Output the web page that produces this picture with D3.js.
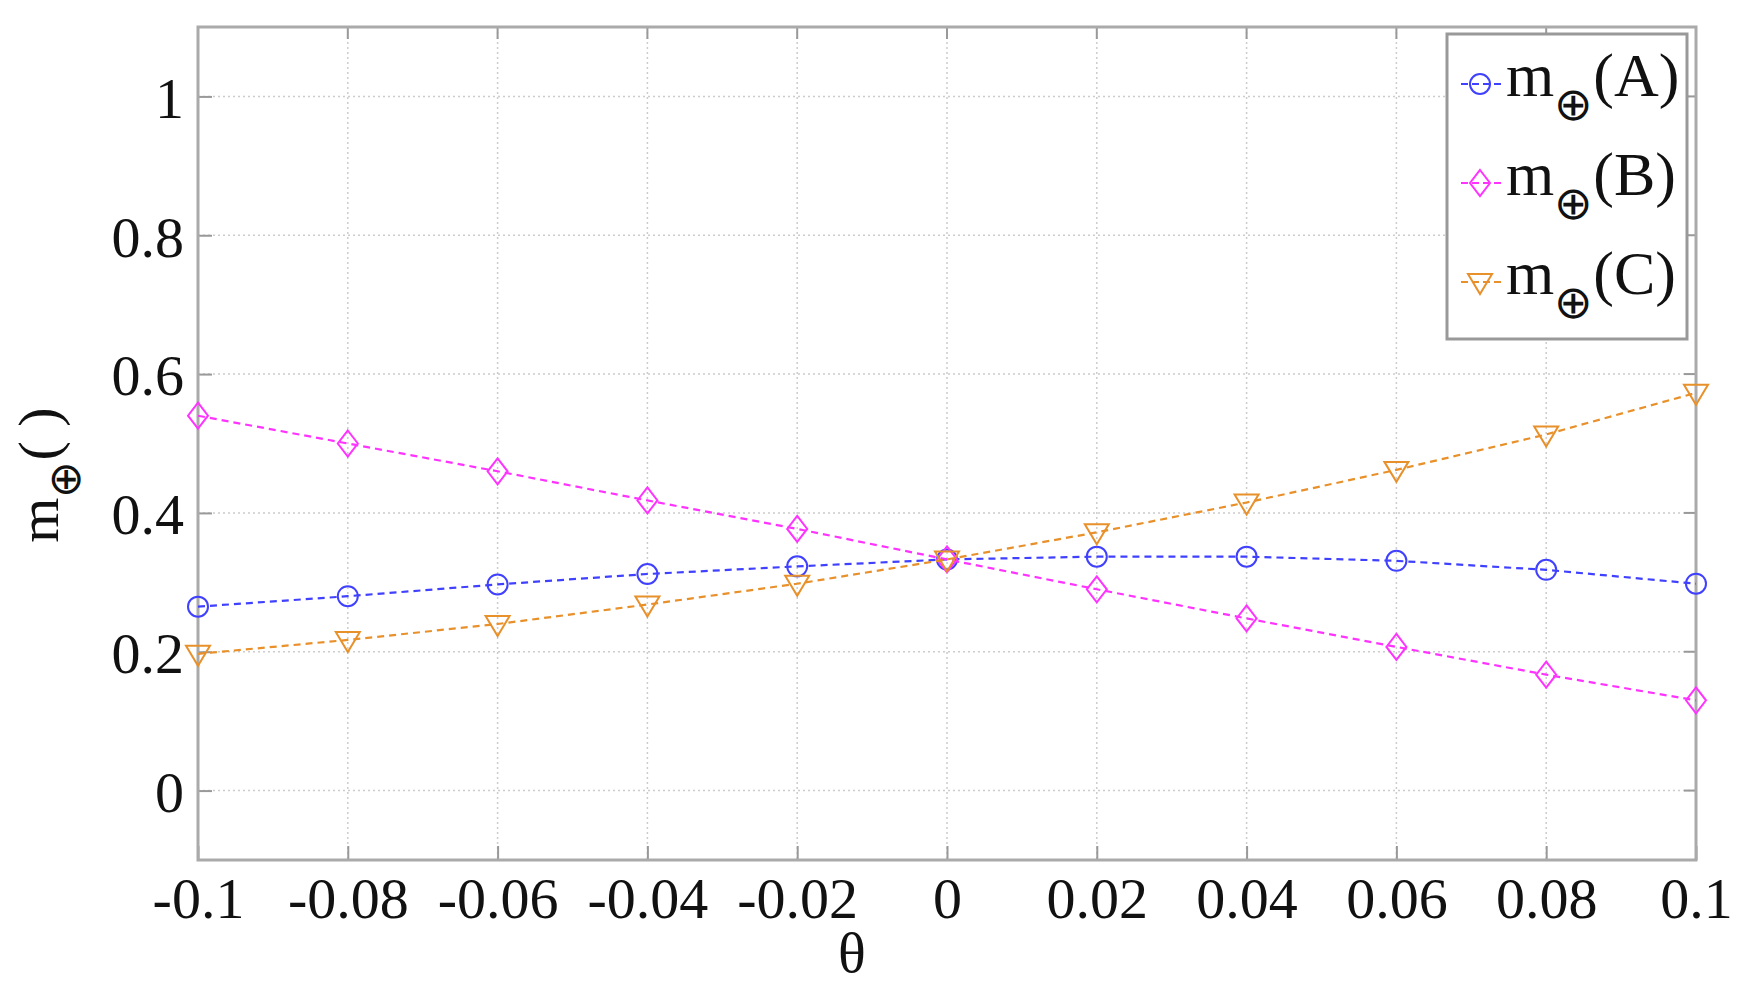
<!DOCTYPE html><html><head><meta charset="utf-8"><script src="https://cdn.jsdelivr.net/npm/d3@7"></script>
<style>body{margin:0;background:#fff}text{font-family:"Liberation Serif","Times New Roman",serif;fill:#111}</style></head><body>
<svg id="c" width="1745" height="998"></svg>
<script>
const thetas=[-0.1,-0.08,-0.06,-0.04,-0.02,0,0.02,0.04,0.06,0.08,0.1];
const xTicks=[-0.1,-0.08,-0.06,-0.04,-0.02,0,0.02,0.04,0.06,0.08,0.1];
const yTicks=[0,0.2,0.4,0.6,0.8,1];
const seriesA=[0.265,0.28,0.297,0.312,0.323,0.333,0.337,0.337,0.331,0.318,0.298];
const seriesB=[0.54,0.50,0.46,0.418,0.377,0.333,0.29,0.248,0.207,0.167,0.13];
const seriesC=[0.197,0.217,0.24,0.268,0.298,0.333,0.372,0.415,0.462,0.513,0.573];
const labels=["A","B","C"];
const colors=["#4040ff","#ff33ff","#e8902a"];
const svg=d3.select("#c");
const L=198,R=1696,T=27,B=860;
const x=d3.scaleLinear().domain([-0.1,0.1]).range([L,R]);
const y=d3.scaleLinear().domain([-0.1,1.1]).range([B,T]);
const g=svg.append("g");
g.selectAll(".gx").data(xTicks).enter().append("line").attr("x1",d=>x(d)).attr("x2",d=>x(d)).attr("y1",T).attr("y2",B).attr("stroke","#ccc").attr("stroke-width",1.5).attr("stroke-dasharray","2,3");
g.selectAll(".gy").data(yTicks).enter().append("line").attr("y1",d=>y(d)).attr("y2",d=>y(d)).attr("x1",L).attr("x2",R).attr("stroke","#ccc").attr("stroke-width",1.5).attr("stroke-dasharray","2,3");
const fmt=d=>String(+d.toFixed(2));
const xa=d3.axisBottom(x).tickValues(xTicks).tickSize(-14).tickFormat(fmt);
const ya=d3.axisLeft(y).tickValues(yTicks).tickSize(-14).tickFormat(fmt);
const gx=svg.append("g").attr("transform",`translate(0,${B})`).call(xa);
const gy=svg.append("g").attr("transform",`translate(${L},0)`).call(ya);
[gx,gy].forEach(a=>{a.select(".domain").remove();a.selectAll("line").attr("stroke","#999").attr("stroke-width",2);a.selectAll("text").style("font-size","58px").attr("fill","#111");});
gx.selectAll("text").attr("dy","0").attr("y",58);
gy.selectAll("text").attr("x",-14).attr("dy","0.36em");
svg.selectAll(".rt").data(yTicks).enter().append("line").attr("x1",R).attr("x2",R-12).attr("y1",d=>y(d)).attr("y2",d=>y(d)).attr("stroke","#999").attr("stroke-width",2);
svg.selectAll(".tt").data(xTicks).enter().append("line").attr("y1",T).attr("y2",T+12).attr("x1",d=>x(d)).attr("x2",d=>x(d)).attr("stroke","#999").attr("stroke-width",2);
svg.append("rect").attr("x",L).attr("y",T).attr("width",R-L).attr("height",B-T).attr("fill","none").attr("stroke","#aaa").attr("stroke-width",3);
function marker(sel,i,cx,cy){
  if(i===0) sel.append("circle").attr("cx",cx).attr("cy",cy).attr("r",10);
  else if(i===1) sel.append("path").attr("d",`M${cx},${cy-13}L${cx+10},${cy}L${cx},${cy+13}L${cx-10},${cy}Z`);
  else sel.append("path").attr("d",`M${cx-12},${cy-8}L${cx+12},${cy-8}L${cx},${cy+12}Z`);
}
const all=[seriesA,seriesB,seriesC];
all.forEach((s,i)=>{
  const line=d3.line().x((d,j)=>x(thetas[j])).y(d=>y(d));
  svg.append("path").datum(s).attr("d",line).attr("fill","none").attr("stroke",colors[i]).attr("stroke-width",2.2).attr("stroke-dasharray","7,5");
  const mg=svg.append("g").attr("fill","none").attr("stroke",colors[i]).attr("stroke-width",2);
  s.forEach((v,j)=>marker(mg,i,x(thetas[j]),y(v)));
});
svg.append("rect").attr("x",1447).attr("y",34).attr("width",240).attr("height",305).attr("fill","#fff").attr("stroke","#999").attr("stroke-width",3);
labels.forEach((lb,i)=>{
  const cy=84+i*99;
  svg.append("line").attr("x1",1461).attr("x2",1502).attr("y1",cy).attr("y2",cy).attr("stroke",colors[i]).attr("stroke-width",2.2).attr("stroke-dasharray","7,4");
  const mg=svg.append("g").attr("fill","none").attr("stroke",colors[i]).attr("stroke-width",2);
  marker(mg,i,1480,cy);
  const t=svg.append("text").attr("x",1506).attr("y",cy+12).style("font-size","62px");
  t.append("tspan").text("m");
  t.append("tspan").attr("dy",24).style("font-size","46px").text("⊕");
  t.append("tspan").attr("dy",-24).text("("+lb+")");
});
svg.append("text").attr("x",852).attr("y",972).attr("text-anchor","middle").style("font-size","58px").text("θ");
const yl=svg.append("text").attr("transform","translate(58,475) rotate(-90)").attr("text-anchor","middle").style("font-size","58px");
yl.append("tspan").text("m");
yl.append("tspan").attr("dy",22).style("font-size","44px").text("⊕");
yl.append("tspan").attr("dy",-22).text("( )");
</script></body></html>
